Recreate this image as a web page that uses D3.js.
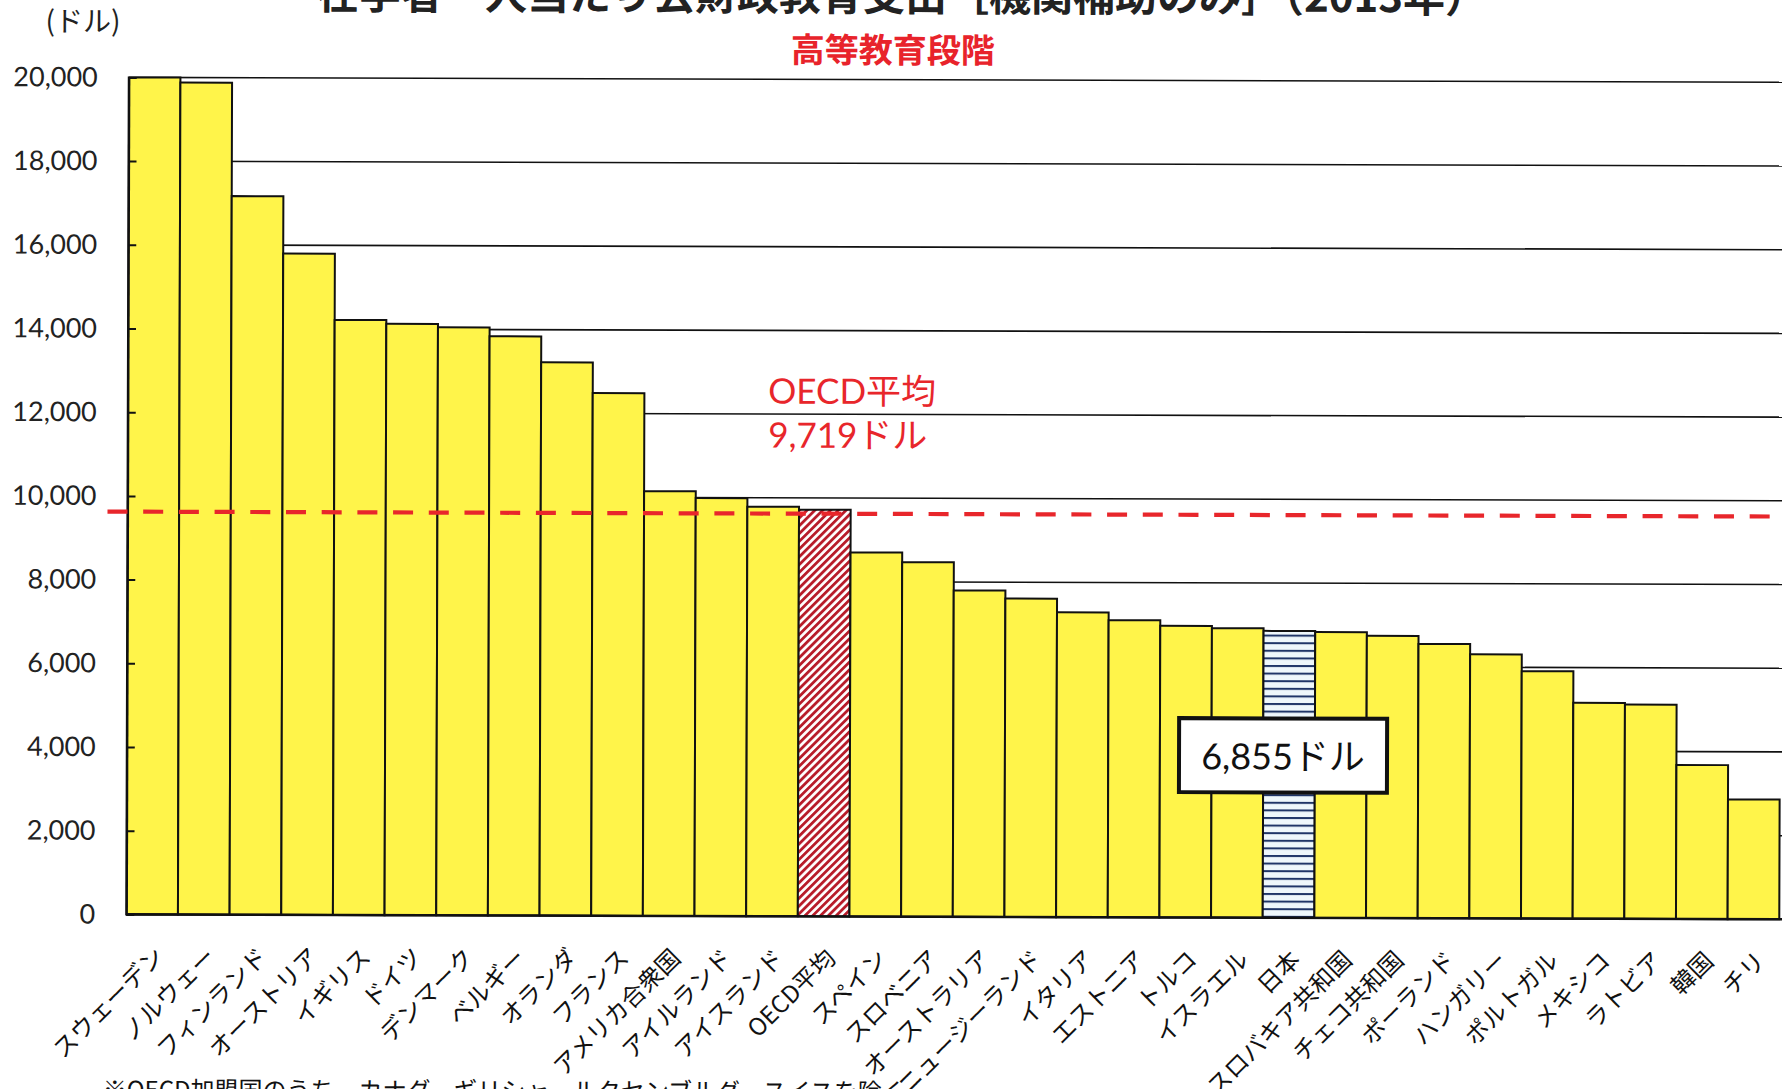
<!DOCTYPE html>
<html><head><meta charset="utf-8">
<script src="https://cdn.jsdelivr.net/npm/d3@7"></script>
<style>
html,body{margin:0;padding:0;background:#fff;}
svg{display:block;}
</style></head>
<body>
<svg id="chart" width="1782" height="1089"></svg>
<script>
const categories = ["スウェーデン","ノルウェー","フィンランド","オーストリア","イギリス","ドイツ","デンマーク","ベルギー","オランダ","フランス","アメリカ合衆国","アイルランド","アイスランド","OECD平均","スペイン","スロベニア","オーストラリア","ニュージーランド","イタリア","エストニア","トルコ","イスラエル","日本","スロバキア共和国","チェコ共和国","ポーランド","ハンガリー","ポルトガル","メキシコ","ラトビア","韓国","チリ"];
const values = [20000,19880,17170,15800,14220,14130,14050,13840,13220,12490,10150,9990,9785,9719,8700,8470,7800,7610,7285,7100,6970,6915,6855,6830,6745,6555,6310,5910,5160,5120,3680,2860];
const yTicks = [0,2000,4000,6000,8000,10000,12000,14000,16000,18000,20000];
const oecdAvg = 9719;
const japanValue = 6855;
const titleText = "在学者一人当たり公財政教育支出［機関補助のみ］（2013年）";
const subtitleText = "高等教育段階";
const unitText = "(ドル)";
const noteText = "※OECD加盟国のうち、カナダ、ギリシャ、ルクセンブルグ、スイスを除く";

const svg = d3.select("#chart");
const W = 1782, H = 1089;
const mLeft = 129, mRight = 1782, mTop = 77, mBottom = 914;
const jp = "'Noto Sans CJK JP','Noto Sans',sans-serif";
const mixed = "Lato,'Noto Sans CJK JP',sans-serif";

const defs = svg.append("defs");
const hatch = defs.append("pattern").attr("id","hatchRed").attr("patternUnits","userSpaceOnUse")
  .attr("width",5.5).attr("height",5.5).attr("patternTransform","rotate(45)");
hatch.append("rect").attr("width",5.5).attr("height",5.5).attr("fill","#fff");
hatch.append("rect").attr("x",0).attr("y",0).attr("width",2.8).attr("height",5.5).attr("fill","#b81c2a");
const horiz = defs.append("pattern").attr("id","hatchBlue").attr("patternUnits","userSpaceOnUse")
  .attr("width",8).attr("height",7.6);
horiz.append("rect").attr("width",8).attr("height",7.6).attr("fill","#eef7fb");
horiz.append("rect").attr("x",0).attr("y",0).attr("width",8).attr("height",2).attr("fill","#1f3567");

const g = svg.append("g").attr("transform","rotate(0.17)");

const x = d3.scaleBand().domain(categories).range([mLeft, mRight]).padding(0);
const y = d3.scaleLinear().domain([0, 20000]).range([mBottom, mTop]);

// Title (clipped at top as in the scan)
g.append("text").attr("x", 902).attr("y", 8).attr("text-anchor","middle")
  .attr("font-family", jp).attr("font-weight", 700).attr("font-size", 42).attr("fill","#222")
  .text(titleText);
g.append("text").attr("x", 893).attr("y", 60).attr("text-anchor","middle")
  .attr("font-family", jp).attr("font-weight", 700).attr("font-size", 34).attr("fill","#e8232b")
  .text(subtitleText);
g.append("text").attr("x", 83).attr("y", 31).attr("text-anchor","middle")
  .attr("font-family", jp).attr("font-size", 28).attr("fill","#222")
  .text(unitText);

// gridlines
g.append("g").selectAll("line").data(yTicks.filter(d => d > 0)).join("line")
  .attr("x1", mLeft).attr("x2", W + 10)
  .attr("y1", d => y(d)).attr("y2", d => y(d))
  .attr("stroke", "#111").attr("stroke-width", 1.6);

// bars
g.append("g").selectAll("rect").data(categories).join("rect")
  .attr("x", d => x(d)).attr("width", x.bandwidth())
  .attr("y", (d, i) => y(values[i])).attr("height", (d, i) => y(0) - y(values[i]))
  .attr("fill", d => d === "OECD平均" ? "url(#hatchRed)" : (d === "日本" ? "url(#hatchBlue)" : "#fff44a"))
  .attr("stroke", "#111").attr("stroke-width", 2);

// y axis
const yAxis = d3.axisLeft(y).tickValues(yTicks).tickSize(-8).tickSizeOuter(0).tickPadding(31)
  .tickFormat(d3.format(","));
const ya = g.append("g").attr("transform", `translate(${mLeft},0)`).call(yAxis);
ya.select(".domain").attr("stroke", "#111").attr("stroke-width", 2.2);
ya.selectAll(".tick line").attr("stroke", "#111").attr("stroke-width", 2);
ya.selectAll(".tick text").attr("font-family", "Lato,'Open Sans',sans-serif").attr("font-size", 27).attr("fill", "#222");

// baseline
g.append("line").attr("x1", mLeft).attr("x2", W + 10).attr("y1", y(0)).attr("y2", y(0))
  .attr("stroke", "#111").attr("stroke-width", 2.6);

// OECD average dashed line
g.append("line").attr("x1", 109).attr("x2", W + 10)
  .attr("y1", y(oecdAvg) + 4).attr("y2", y(oecdAvg) + 4)
  .attr("stroke", "#e8262b").attr("stroke-width", 4.2).attr("stroke-dasharray", "20 15.7");

// OECD annotation
const ox = x("OECD平均") - 31;
g.append("text").attr("x", ox).attr("y", y(12250)).attr("font-family", mixed).attr("font-size", 35)
  .attr("fill", "#e8262b").text("OECD平均");
g.append("text").attr("x", ox).attr("y", y(11200)).attr("font-family", mixed).attr("font-size", 35)
  .attr("fill", "#e8262b").text(d3.format(",")(oecdAvg) + "ドル");

// Japan annotation box
const jx = x("日本") + x.bandwidth() / 2 - 6, jy = y(3880);
g.append("rect").attr("x", jx - 104).attr("y", jy - 37).attr("width", 208).attr("height", 74)
  .attr("fill", "#fff").attr("stroke", "#111").attr("stroke-width", 4);
g.append("text").attr("x", jx).attr("y", jy).attr("text-anchor", "middle").attr("dominant-baseline", "central")
  .attr("font-family", mixed).attr("font-size", 36).attr("fill", "#111")
  .text(d3.format(",")(japanValue) + "ドル");

// x labels
g.append("g").selectAll("text").data(categories).join("text")
  .attr("transform", d => `translate(${x(d) + x.bandwidth() / 2 + 6},${mBottom + 36}) rotate(-45)`)
  .attr("text-anchor", "end").attr("dominant-baseline", "central")
  .attr("font-family", jp).attr("font-size", 24).attr("fill", "#111")
  .text(d => d);

// footnote (clipped at bottom)
g.append("text").attr("x", 106).attr("y", 1098).attr("font-family", jp).attr("font-size", 24).attr("fill", "#111")
  .text(noteText);
</script>
</body></html>
